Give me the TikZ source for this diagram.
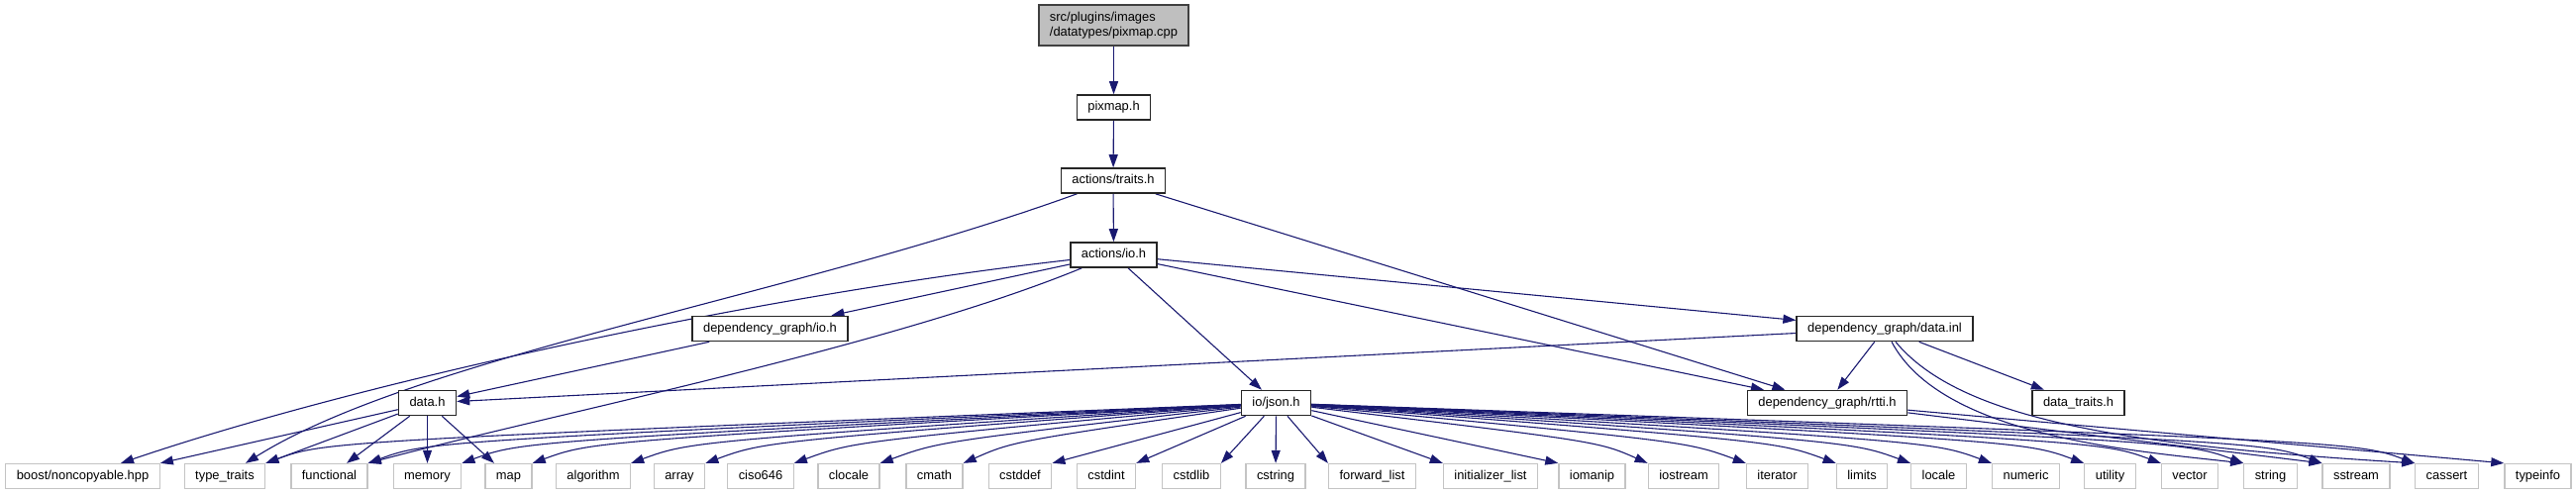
\documentclass[tikz,border=0pt]{standalone}
\usepackage{fontspec}
\setmainfont{Liberation Sans}
\usetikzlibrary{arrows.meta,backgrounds}
\definecolor{edgeblue}{HTML}{191970}
\definecolor{rootgray}{HTML}{BFBFBF}
\definecolor{sysgray}{HTML}{C4C4C4}

\begin{document}
\begin{tikzpicture}[x=1pt, y=-1pt,
    every node/.style={rectangle, fill=white, inner xsep=11pt, inner ysep=0pt, font=\fontsize{12.9}{14.5}\selectfont},
    hdr/.style={draw=black!85, line width=1.6pt, minimum height=25pt, text height=9.3pt, text depth=2.7pt},
    sys/.style={draw=sysgray, line width=1.3pt, minimum height=25pt, text height=9.3pt, text depth=2.7pt},
    inc/.style={draw=edgeblue, line width=1.1pt, -{Triangle[length=13pt,width=9pt]}}]
    \useasboundingbox (0,0) rectangle (2601,500);

    % top column
    \node[draw=black!75, line width=1.6pt, fill=rootgray, align=left, minimum height=41pt] (root) at (1124.5,25.5) {src/plugins/images\\/datatypes/pixmap.cpp};
    \node[hdr] (pixmap) at (1124.5,108.5) {pixmap.h};
    \node[hdr] (traits) at (1124,182.5) {actions/traits.h};
    \node[hdr] (actio) at (1124.5,257.5) {actions/io.h};
    \node[hdr] (dgio) at (777.5,332) {dependency\_graph/io.h};
    \node[hdr] (datainl) at (1903,332) {dependency\_graph/data.inl};
    \node[hdr] (datah) at (431.5,407) {data.h};
    \node[hdr] (json) at (1288.5,407) {io/json.h};
    \node[hdr] (rtti) at (1845,407) {dependency\_graph/rtti.h};
    \node[hdr] (dtraits) at (2098.5,407) {data\_traits.h};

    % system headers
    \node[sys] (boost) at (83.5,481) {boost/noncopyable.hpp};
    \node[sys] (typetraits) at (227,481) {type\_traits};
    \node[sys] (functional) at (332.5,481) {functional};
    \node[sys] (memory) at (431.5,481) {memory};
    \node[sys] (map) at (513.5,481) {map};
    \node[sys] (algorithm) at (599,481) {algorithm};
    \node[sys] (array) at (686,481) {array};
    \node[sys] (ciso) at (768,481) {ciso646};
    \node[sys] (clocale) at (857,481) {clocale};
    \node[sys] (cmath) at (943.5,481) {cmath};
    \node[sys] (cstddef) at (1030,481) {cstddef};
    \node[sys] (cstdint) at (1117,481) {cstdint};
    \node[sys] (cstdlib) at (1203,481) {cstdlib};
    \node[sys] (cstring) at (1288,481) {cstring};
    \node[sys] (fwdlist) at (1385.5,481) {forward\_list};
    \node[sys] (initlist) at (1505,481) {initializer\_list};
    \node[sys] (iomanip) at (1607.5,481) {iomanip};
    \node[sys] (iostream) at (1700,481) {iostream};
    \node[sys] (iterator) at (1794.5,481) {iterator};
    \node[sys] (limits) at (1880,481) {limits};
    \node[sys] (locale) at (1957.5,481) {locale};
    \node[sys] (numeric) at (2045.5,481) {numeric};
    \node[sys] (utility) at (2130.5,481) {utility};
    \node[sys] (vector) at (2211,481) {vector};
    \node[sys] (string) at (2292.5,481) {string};
    \node[sys] (sstream) at (2379,481) {sstream};
    \node[sys] (cassert) at (2470.5,481) {cassert};
    \node[sys] (typeinfo) at (2562.5,481) {typeinfo};

    \begin{scope}[on background layer]
    \draw[inc] (root) -- (pixmap);
    \draw[inc] (pixmap) -- (traits);
    \draw[inc] (traits) -- (actio);
    \draw[inc] (traits) .. controls (800,300) and (420,360) .. (typetraits);
    \draw[inc] (traits) -- (rtti);
    \draw[inc] (actio) .. controls (750,300) and (350,390) .. (boost);
    \draw[inc] (actio) -- (dgio);
    \draw[inc] (actio) .. controls (900,350) and (550,420) .. (functional.north east);
    \draw[inc] (actio) -- (json);
    \draw[inc] (actio) -- (rtti);
    \draw[inc] (actio) -- (datainl);
    \draw[inc] (dgio) -- (datah);
    \draw[inc] (datainl) -- (datah);
    \draw[inc] (datainl) -- (rtti);
    \draw[inc] (datainl) -- (dtraits);
    \draw[inc] (datainl) .. controls (1960,440) and (2150,455) .. (string.north west);
    \draw[inc] (datainl) .. controls (1980,425) and (2150,450) .. (cassert.north west);
    \draw[inc] (rtti) -- (sstream.north west);
    \draw[inc] (rtti) -- (typeinfo.north west);

    \draw[inc] (datah) -- (boost.north east);
    \draw[inc] (datah) -- (typetraits.north east);
    \draw[inc] (datah) -- (functional);
    \draw[inc] (datah) -- (memory);
    \draw[inc] (datah) -- (map);

    \draw[inc] (json) .. controls ([xshift=60pt,yshift=22pt]typetraits.north east) .. (typetraits.north east);
    \draw[inc] (json) .. controls ([xshift=60pt,yshift=22pt]functional.north east) .. (functional.north east);
    \draw[inc] (json) .. controls ([xshift=60pt,yshift=22pt]memory.north east) .. (memory.north east);
    \draw[inc] (json) .. controls ([xshift=60pt,yshift=22pt]map.north east) .. (map.north east);
    \draw[inc] (json) .. controls ([xshift=60pt,yshift=22pt]algorithm.north east) .. (algorithm.north east);
    \draw[inc] (json) .. controls ([xshift=60pt,yshift=22pt]array.north east) .. (array.north east);
    \draw[inc] (json) .. controls ([xshift=60pt,yshift=22pt]ciso.north east) .. (ciso.north east);
    \draw[inc] (json) .. controls ([xshift=60pt,yshift=22pt]clocale.north east) .. (clocale.north east);
    \draw[inc] (json) .. controls ([xshift=50pt,yshift=22pt]cmath.north east) .. (cmath.north east);
    \draw[inc] (json) -- (cstddef.north east);
    \draw[inc] (json) -- (cstdint.north east);
    \draw[inc] (json) -- (cstdlib.north east);
    \draw[inc] (json) -- (cstring);
    \draw[inc] (json) -- (fwdlist.north west);
    \draw[inc] (json) -- (initlist.north west);
    \draw[inc] (json) -- (iomanip.north west);
    \draw[inc] (json) .. controls ([xshift=-50pt,yshift=22pt]iostream.north west) .. (iostream.north west);
    \draw[inc] (json) .. controls ([xshift=-60pt,yshift=22pt]iterator.north west) .. (iterator.north west);
    \draw[inc] (json) .. controls ([xshift=-60pt,yshift=22pt]limits.north west) .. (limits.north west);
    \draw[inc] (json) .. controls ([xshift=-60pt,yshift=22pt]locale.north west) .. (locale.north west);
    \draw[inc] (json) .. controls ([xshift=-60pt,yshift=22pt]numeric.north west) .. (numeric.north west);
    \draw[inc] (json) .. controls ([xshift=-60pt,yshift=22pt]utility.north west) .. (utility.north west);
    \draw[inc] (json) .. controls ([xshift=-60pt,yshift=22pt]vector.north west) .. (vector.north west);
    \draw[inc] (json) .. controls ([xshift=-60pt,yshift=22pt]string.north west) .. (string.north west);
    \draw[inc] (json) .. controls ([xshift=-60pt,yshift=22pt]sstream.north west) .. (sstream.north west);
    \draw[inc] (json) .. controls ([xshift=-60pt,yshift=22pt]cassert.north west) .. (cassert.north west);
    \end{scope}
\end{tikzpicture}
\end{document}
